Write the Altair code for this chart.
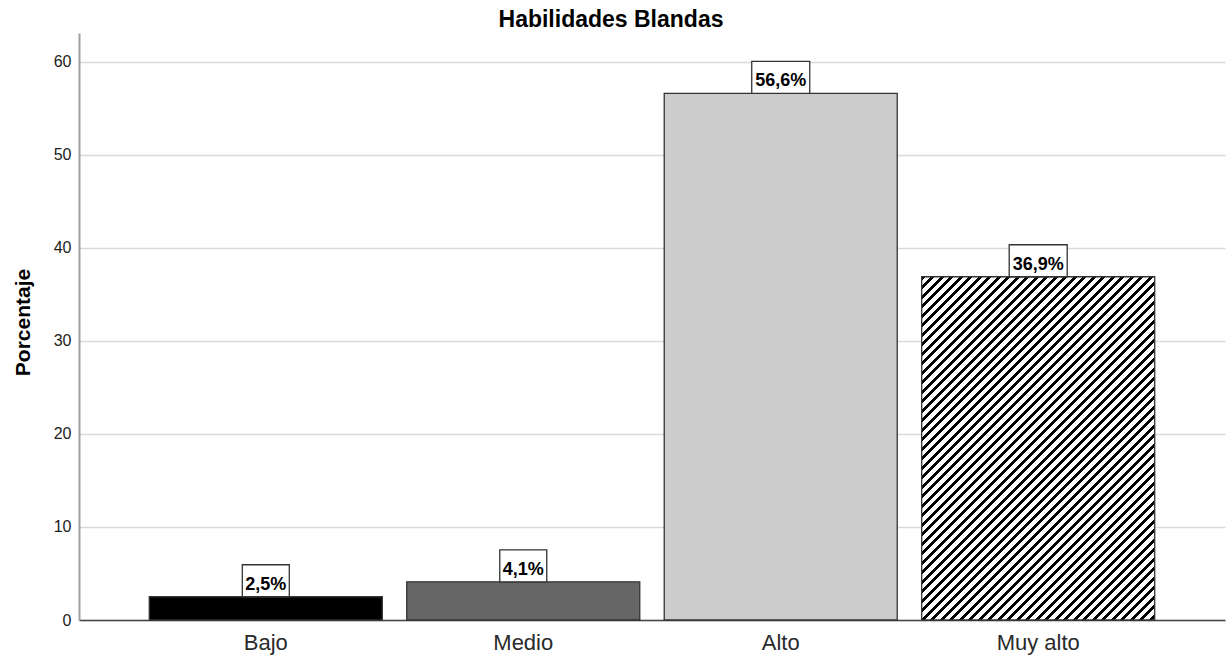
import altair as alt
import pandas as pd

# Category levels and their percentages
niveles = ["Bajo", "Medio", "Alto", "Muy alto"]
porcentajes = [2.5, 4.1, 56.6, 36.9]
colores = ["#000000", "#666666", "#cccccc", "#ffffff"]
ticks_y = [0, 10, 20, 30, 40, 50, 60]

etiquetas = [f"{v:.1f}".replace(".", ",") + "%" for v in porcentajes]

df = pd.DataFrame({"Nivel": niveles, "Porcentaje": porcentajes, "Etiqueta": etiquetas})

# Plot geometry
W, H = 1146, 587
Y_MAX = 63.1
PAD_IN, PAD_OUT = 0.095, 0.273

# Diagonal hatching for the "Muy alto" bar, built as a hard-stop linear gradient
step = W / (len(niveles) - PAD_IN + 2 * PAD_OUT)
bar_w = step * (1 - PAD_IN)
bar_h = porcentajes[3] * H / Y_MAX
ratio = bar_h / bar_w
span = bar_w * (1 + ratio ** 2)          # length of (x + y) covered by t in [0, 1]
period = 9.5                             # stripe period along a horizontal line
n = int(span / period) + 1
ink = 0.42
stops = []
for i in range(n):
    a = i * period / span
    b = (i + ink) * period / span
    c = (i + 1) * period / span
    if a > 1:
        break
    stops += [
        {"offset": min(a, 1), "color": "#000000"},
        {"offset": min(b, 1), "color": "#000000"},
        {"offset": min(b, 1), "color": "#ffffff"},
        {"offset": min(c, 1), "color": "#ffffff"},
    ]
hatch = {"gradient": "linear", "x1": 0, "y1": 0, "x2": 1, "y2": ratio, "stops": stops}

x_enc = alt.X(
    "Nivel:N",
    sort=niveles,
    scale=alt.Scale(paddingInner=PAD_IN, paddingOuter=PAD_OUT),
    axis=alt.Axis(
        title=None, labelAngle=0, labelFontSize=22, labelFont="Liberation Sans",
        labelColor="#2a2a2a", labelPadding=12, ticks=False,
        domainColor="#444444", domainWidth=1.5, grid=False,
    ),
)
y_enc = alt.Y(
    "Porcentaje:Q",
    scale=alt.Scale(domain=[0, Y_MAX], nice=False, zero=True),
    axis=alt.Axis(
        values=ticks_y, title="Porcentaje", titleFont="Liberation Sans",
        titleFontSize=21, titleFontWeight="bold", titleColor="#000000",
        titleAngle=-90, titleX=-56, titleY=289, titleAlign="center",
        titleBaseline="middle",
        labelFontSize=16, labelFont="Liberation Sans", labelColor="#222222",
        labelPadding=8, ticks=False, domainColor="#a0a0a0", domainWidth=2,
        gridColor="#d9d9d9", gridWidth=1.5,
    ),
)

bars = alt.Chart(df).mark_bar(stroke="#333333", strokeWidth=1.3).encode(
    x=x_enc,
    y=y_enc,
    fill=alt.condition(
        "datum.Nivel === 'Muy alto'",
        alt.value(hatch),
        alt.Fill("Nivel:N", scale=alt.Scale(domain=niveles, range=colores), legend=None),
    ),
)

boxes = alt.Chart(df).transform_calculate(
    ancho="11 * length(datum.Etiqueta) + 3"
).mark_bar(fill="#ffffff", stroke="#333333", strokeWidth=1.3, y2Offset=-32).encode(
    x=alt.X("Nivel:N", sort=niveles),
    y="Porcentaje:Q",
    y2="Porcentaje:Q",
    size=alt.Size("ancho:Q", scale=None, legend=None),
)

labels = alt.Chart(df).mark_text(
    font="Liberation Sans", fontWeight="bold", fontSize=18,
    baseline="alphabetic", dy=-7, color="#000000",
).encode(
    x=alt.X("Nivel:N", sort=niveles),
    y="Porcentaje:Q",
    text="Etiqueta:N",
)

chart = alt.layer(bars, boxes, labels).properties(
    width=W,
    height=H,
    title=alt.TitleParams(
        "Habilidades Blandas", font="Liberation Sans", fontSize=23,
        fontWeight="bold", color="#000000", anchor="middle", dx=-41, dy=24,
        baseline="alphabetic", offset=7,
    ),
    autosize=alt.AutoSizeParams(type="none"),
    padding={"left": 79, "top": 33, "right": 7, "bottom": 39},
    background="#ffffff",
).configure_view(stroke=None)

chart.save("out.html", embed_options={"renderer": "svg", "actions": False})
